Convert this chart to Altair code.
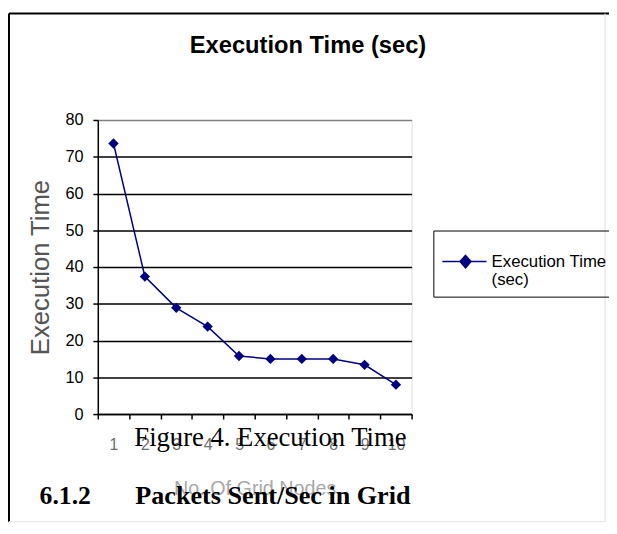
import altair as alt
import pandas as pd

# ---- data ----
nodes = ["1", "2", "3", "4", "5", "6", "7", "8", "9", "10"]
exec_time = [73.6, 37.4, 28.9, 23.8, 15.8, 15.0, 15.0, 15.0, 13.4, 8.0]
series_name = "Execution Time (sec)"
y_ticks = [0, 10, 20, 30, 40, 50, 60, 70, 80]

chart_title = "Execution Time (sec)"
x_title = "No. Of Grid Nodes"
y_title = "Execution Time"
caption_text = "Figure 4. Execution Time"
heading_num = "6.1.2"
heading_text = "Packets Sent/Sec in Grid"

NAVY = "#000080"
SANS = "Liberation Sans, Arial, sans-serif"
SERIF = "Liberation Serif, Times New Roman, serif"

df = pd.DataFrame({"node": nodes, "time": exec_time, "series": [series_name] * len(nodes)})

x_enc = alt.X(
    "node:O",
    sort=nodes,
    bandPosition=0.5,
    scale=alt.Scale(type="band", paddingInner=0, paddingOuter=0),
    axis=alt.Axis(
        title=x_title,
        labelAngle=0,
        tickBand="extent",
        domainColor="black",
        domainWidth=1.5,
        tickColor="black",
        tickWidth=1.5,
        tickSize=5,
        labelFont=SANS,
        labelFontSize=16,
        labelColor="#6e6e6e",
        labelPadding=18,
        titleFont=SANS,
        titleFontSize=20,
        titleFontWeight="normal",
        titleColor="#a8a8a8",
        titlePadding=27,
        grid=False,
    ),
)
y_enc = alt.Y(
    "time:Q",
    scale=alt.Scale(domain=[0, 80], nice=False),
    axis=alt.Axis(
        title=y_title,
        values=y_ticks,
        grid=True,
        gridColor={"condition": {"test": "datum.value === 80", "value": "#808080"}, "value": "black"},
        gridWidth=1.5,
        domainColor="black",
        domainWidth=1.5,
        tickColor="black",
        tickWidth=1.5,
        tickSize=5,
        labelFont=SANS,
        labelFontSize=16.5,
        labelColor="black",
        labelPadding=10,
        titleFont=SANS,
        titleFontSize=26,
        titleFontWeight="normal",
        titleColor="#555555",
        titlePadding=12,
    ),
)
color_enc = alt.Color(
    "series:N",
    scale=alt.Scale(domain=[series_name], range=[NAVY]),
    legend=alt.Legend(
        title=None,
        orient="none",
        legendX=340,
        legendY=112,
        strokeColor="black",
        padding=8,
        symbolType="M-1,0L1,0M0.05,-0.28L0.3,0L0.05,0.28L-0.2,0Z",
        symbolSize=2000,
        symbolStrokeWidth=1.5,
        symbolFillColor=NAVY,
        symbolStrokeColor=NAVY,
        labelFont=SANS,
        labelFontSize=17,
        labelColor="black",
        labelOffset=4,
        labelLimit=300,
        labelExpr="['Execution Time', '(sec)']",
        labelBaseline="middle",
        labelAlign="left",
    ),
)

base = alt.Chart(df)
line = base.mark_line(strokeWidth=1.5).encode(x=x_enc, y=y_enc, color=color_enc)
pts = base.mark_point(shape="diamond", filled=True, size=110, opacity=1).encode(
    x=x_enc, y=y_enc, color=color_enc
)

# document frame around the figure
one = pd.DataFrame({"k": [0]})
frame_top = alt.Chart(one).mark_rule(color="black", strokeWidth=2).encode(
    x=alt.value(-90), y=alt.value(-108), x2=alt.value(520), y2=alt.value(-108)
)
frame_left = alt.Chart(one).mark_rule(color="black", strokeWidth=2).encode(
    x=alt.value(-90), y=alt.value(-108), x2=alt.value(-90), y2=alt.value(407)
)
frame_right = alt.Chart(one).mark_rule(color="#dddddd", strokeWidth=1).encode(
    x=alt.value(514), y=alt.value(-108), x2=alt.value(514), y2=alt.value(407)
)
frame_bottom = alt.Chart(one).mark_rule(color="#e6e6e6", strokeWidth=1).encode(
    x=alt.value(-90), y=alt.value(407), x2=alt.value(514), y2=alt.value(407)
)

caption = alt.Chart(pd.DataFrame({"t": [caption_text]})).mark_text(
    font=SERIF, fontSize=27, color="black", align="left", baseline="alphabetic"
).encode(text="t:N", x=alt.value(37), y=alt.value(330))
head_num = alt.Chart(pd.DataFrame({"t": [heading_num]})).mark_text(
    font=SERIF, fontSize=26, fontWeight="bold", color="black", align="left", baseline="alphabetic"
).encode(text="t:N", x=alt.value(-59), y=alt.value(389))
head_txt = alt.Chart(pd.DataFrame({"t": [heading_text]})).mark_text(
    font=SERIF, fontSize=26.5, fontWeight="bold", color="black", align="left", baseline="alphabetic"
).encode(text="t:N", x=alt.value(38), y=alt.value(389))

chart = (
    alt.layer(frame_top, frame_left, frame_right, frame_bottom, line, pts, caption, head_num, head_txt)
    .properties(
        width=318,
        height=298,
        padding={"left": 91, "top": 110, "right": 200, "bottom": 116},
        autosize=alt.AutoSizeParams(type="none"),
        title=alt.TitleParams(
            text=chart_title,
            font=SANS,
            fontSize=24,
            fontWeight="bold",
            color="black",
            anchor="middle",
            offset=0,
            dx=54,
            dy=46,
        ),
    )
    .configure_view(fill="#C0C0C0", stroke="#808080", strokeWidth=1.5)
    .configure(background="white")
)

chart.save("out.html", embed_options={"renderer": "svg", "actions": False})
